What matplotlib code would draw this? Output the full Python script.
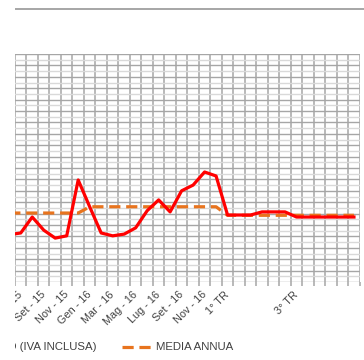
import numpy as np
import matplotlib
matplotlib.use("Agg")
import matplotlib.pyplot as plt
from matplotlib.lines import Line2D
from matplotlib.patches import Rectangle

# categorie mensili / trimestrali
categorie = ["Giu - 15", "Lug - 15", "Ago - 15", "Set - 15", "Ott - 15", "Nov - 15",
             "Dic - 15", "Gen - 16", "Feb - 16", "Mar - 16", "Apr - 16", "Mag - 16",
             "Giu - 16", "Lug - 16", "Ago - 16", "Set - 16", "Ott - 16", "Nov - 16",
             "Dic - 16", "1° TR", "", "", "2° TR", "", "", "3° TR", "", "", "4° TR",
             "", ""]

prezzo = [8.3, 8.6, 11.4, 9.1, 7.7, 8.1, 17.9, 13.2, 8.6, 8.1, 8.4, 9.5,
          12.5, 14.4, 12.3, 16.0, 17.0, 19.3, 18.6, 11.75, 11.75, 11.75, 12.3, 12.3,
          12.3, 11.4, 11.4, 11.4, 11.4, 11.4, 11.4]

media = [12.1, 12.1, 12.1, 12.1, 12.1, 12.1, 12.1, 13.2, 13.2, 13.2, 13.2, 13.2,
         13.2, 13.2, 13.2, 13.2, 13.2, 13.2, 13.2, 11.7, 11.7, 11.7, 11.7, 11.7,
         11.7, 11.7, 11.7, 11.7, 11.7, 11.7, 11.7]

W, H = 364, 360
fig = plt.figure(figsize=(W / 100, H / 100), dpi=100)
ax = fig.add_axes([15 / W, (H - 282) / H, 344.7 / W, 228 / H])

x = np.arange(len(categorie))
ax.plot(x, prezzo, color="#FF0000", lw=2.3, solid_joinstyle="round", zorder=4)
ax.plot(x, media, color="#E8741E", lw=2.3, dashes=(3.5, 1.8), zorder=3)

ax.set_xlim(len(categorie) - 0.5 - 344.7 / 11.6, len(categorie) - 0.5)
ax.set_ylim(0, 40)

# griglia: confini di categoria in verticale, linee principali/secondarie in orizzontale
ax.set_xticks(x[1::2])
ax.set_xticklabels(categorie[1::2], rotation=45, ha="right", va="center",
                   rotation_mode="anchor", fontsize=7.8, color="#404040",
                   family="Liberation Sans")
ax.set_xticks(np.arange(0.5, len(categorie), 1), minor=True)
ax.set_yticks(np.arange(0, 41, 2))
ax.set_yticks(np.arange(1, 40, 2), minor=True)
ax.tick_params(axis="x", which="major", length=0, pad=8)
ax.tick_params(axis="x", which="minor", length=3, width=1.1, color="#A6A6A6")
ax.tick_params(axis="y", which="both", length=0, labelleft=False)
ax.grid(axis="x", which="minor", color="#A6A6A6", lw=1.1)
ax.grid(axis="y", which="major", color="#A6A6A6", lw=1.0)
ax.grid(axis="y", which="minor", color="#D9D9D9", lw=1.0)
ax.set_axisbelow(True)
for s in ax.spines.values():
    s.set_visible(False)

# linea superiore
fig.add_artist(Line2D([15 / W, 1], [1 - 8.5 / H] * 2, color="#A6A6A6", lw=1.4))

# legenda
ly = 1 - 346.5 / H
fig.text(97 / W, ly, "PREZZO STANDARD (IVA INCLUSA)", ha="right", va="center",
         fontsize=8.2, color="#404040", family="Liberation Sans")
fig.add_artist(Line2D([122 / W, 152 / W], [ly, ly], color="#E8741E", lw=2.3,
                      dashes=(3.5, 1.8)))
fig.text(156 / W, ly, "MEDIA ANNUA", ha="left", va="center",
         fontsize=8.2, color="#404040", family="Liberation Sans")

# margine bianco a sinistra
fig.add_artist(Rectangle((0, 0), 15 / W, 1, transform=fig.transFigure,
                         facecolor="white", edgecolor="none", zorder=100))

fig.savefig("out.png", dpi=100)
